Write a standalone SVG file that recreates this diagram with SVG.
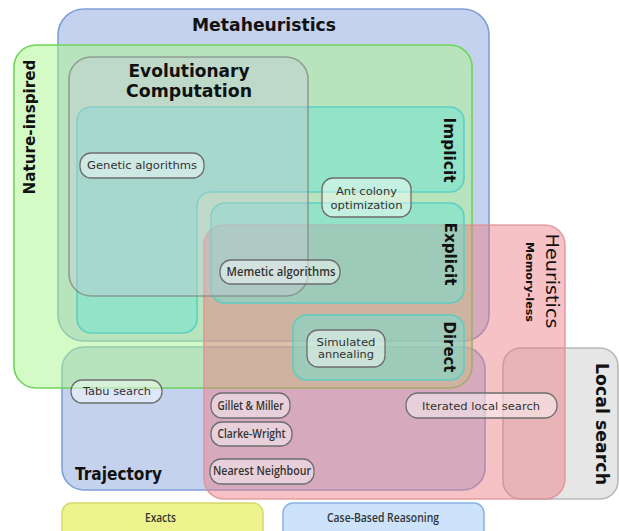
<svg xmlns="http://www.w3.org/2000/svg" width="619" height="531" viewBox="0 0 619 531">
  <style>
    .set { stroke-width: 1.6; }
    .meta { fill: #8ca5dc; fill-opacity: 0.5; stroke: #7f9fd8; }
    .nature { fill: #aaf58c; fill-opacity: 0.5; stroke: #6fd45a; }
    .heur { fill: #eb7880; fill-opacity: 0.45; stroke: #e08e92; stroke-opacity: 0.8; }
    .local { fill: #e6e6e6; stroke: #b8b8b8; }
    .evo { fill: #c8c8d7; fill-opacity: 0.4; stroke: #7f8a80; stroke-opacity: 0.75; }
    .teal { fill: #6ee1d2; fill-opacity: 0.5; stroke: #4fcfc2; stroke-opacity: 0.85; }
    .node rect { fill: #ffffff; fill-opacity: 0.45; stroke: #6e6e6e; stroke-width: 1.3; }
    .head { font-family: "DejaVu Sans", "Liberation Sans", sans-serif; font-weight: bold; fill: #111; }
    .lbl { font-family: "DejaVu Sans", "Liberation Sans", sans-serif; font-size: 11.3px; fill: #333; text-anchor: middle; }
    .cond { font-family: "Open Sans", "Liberation Sans", sans-serif; font-weight: 600; font-size: 12px; fill: #333; text-anchor: middle; }
  </style>

  <!-- sets -->
  <g id="metaheuristics">
    <rect class="set meta" x="58" y="9" width="431" height="332" rx="26"/>
    <text class="head" x="264" y="31" font-size="17" text-anchor="middle" textLength="144" lengthAdjust="spacingAndGlyphs">Metaheuristics</text>
  </g>
  <g id="trajectory">
    <rect class="set meta" x="62" y="347" width="423" height="143" rx="22"/>
    <text class="head" x="75" y="480" font-size="17" textLength="87" lengthAdjust="spacingAndGlyphs">Trajectory</text>
  </g>
  <g id="nature-inspired">
    <rect class="set nature" x="14" y="45" width="458" height="343" rx="22"/>
    <text class="head" transform="translate(35,127) rotate(-90)" font-size="16" text-anchor="middle" textLength="135" lengthAdjust="spacingAndGlyphs">Nature-inspired</text>
  </g>
  <g id="local-search">
    <rect class="set local" x="503" y="348" width="115" height="151" rx="18"/>
    <text class="head" transform="translate(596,424) rotate(90)" font-size="17" text-anchor="middle" textLength="122" lengthAdjust="spacingAndGlyphs">Local search</text>
  </g>
  <g id="heuristics">
    <rect class="set heur" x="204" y="225" width="361" height="274" rx="20"/>
    <text transform="translate(546,281) rotate(90)" font-family="DejaVu Sans, Liberation Sans, sans-serif" font-size="17" fill="#111" text-anchor="middle" textLength="95" lengthAdjust="spacingAndGlyphs">Heuristics</text>
    <text class="head" transform="translate(525.5,282) rotate(90)" font-size="11" text-anchor="middle" textLength="80" lengthAdjust="spacingAndGlyphs">Memory-less</text>
  </g>
  <g id="implicit">
    <path class="set teal" d="M91,107 H450 A14,14 0 0 1 464,121 V178 A14,14 0 0 1 450,192 H211 A14,14 0 0 0 197,206 V319 A14,14 0 0 1 183,333 H91 A14,14 0 0 1 77,319 V121 A14,14 0 0 1 91,107 Z"/>
    <text class="head" transform="translate(444,150) rotate(90)" font-size="16" text-anchor="middle" textLength="65" lengthAdjust="spacingAndGlyphs">Implicit</text>
  </g>
  <g id="explicit">
    <rect class="set teal" x="211" y="203" width="253" height="100" rx="14"/>
    <text class="head" transform="translate(445,254) rotate(90)" font-size="16" text-anchor="middle" textLength="63" lengthAdjust="spacingAndGlyphs">Explicit</text>
  </g>
  <g id="direct">
    <rect class="set teal" x="293" y="315" width="171" height="65" rx="14"/>
    <text class="head" transform="translate(443.5,347) rotate(90)" font-size="16" text-anchor="middle" textLength="51" lengthAdjust="spacingAndGlyphs">Direct</text>
  </g>
  <g id="evolutionary-computation">
    <rect class="set evo" x="69" y="57" width="239" height="239" rx="22"/>
    <text class="head" x="189" y="77" font-size="17" text-anchor="middle" textLength="121" lengthAdjust="spacingAndGlyphs">Evolutionary</text>
    <text class="head" x="189" y="97" font-size="17" text-anchor="middle" textLength="126" lengthAdjust="spacingAndGlyphs">Computation</text>
  </g>

  <!-- methods -->
  <g id="genetic-algorithms" class="node">
    <rect x="80" y="153" width="124" height="25" rx="11"/>
    <text class="lbl" x="142" y="169" textLength="110" lengthAdjust="spacingAndGlyphs">Genetic algorithms</text>
  </g>
  <g id="ant-colony" class="node">
    <rect x="322" y="178" width="89" height="39" rx="11"/>
    <text class="lbl" x="366.5" y="194.5" textLength="61" lengthAdjust="spacingAndGlyphs">Ant colony</text>
    <text class="lbl" x="366.5" y="208.5" textLength="72" lengthAdjust="spacingAndGlyphs">optimization</text>
  </g>
  <g id="memetic-algorithms" class="node">
    <rect x="220" y="260" width="120" height="24" rx="11"/>
    <text class="cond" x="281" y="276" textLength="109" lengthAdjust="spacingAndGlyphs">Memetic algorithms</text>
  </g>
  <g id="simulated-annealing" class="node">
    <rect x="307" y="330" width="78" height="37" rx="11"/>
    <text class="lbl" x="346" y="346" textLength="59" lengthAdjust="spacingAndGlyphs">Simulated</text>
    <text class="lbl" x="346" y="358" textLength="56" lengthAdjust="spacingAndGlyphs">annealing</text>
  </g>
  <g id="tabu-search" class="node">
    <rect x="71" y="380" width="91" height="23" rx="11"/>
    <text class="lbl" x="117" y="395" textLength="68" lengthAdjust="spacingAndGlyphs">Tabu search</text>
  </g>
  <g id="gillet-miller" class="node">
    <rect x="211" y="393" width="79" height="25" rx="11"/>
    <text class="cond" x="250.5" y="410" textLength="66" lengthAdjust="spacingAndGlyphs">Gillet &amp; Miller</text>
  </g>
  <g id="clarke-wright" class="node">
    <rect x="211" y="422" width="81" height="24" rx="11"/>
    <text class="cond" x="251.5" y="438" textLength="68" lengthAdjust="spacingAndGlyphs">Clarke-Wright</text>
  </g>
  <g id="nearest-neighbour" class="node">
    <rect x="210" y="459" width="104" height="25" rx="11"/>
    <text class="cond" x="262" y="475" textLength="98" lengthAdjust="spacingAndGlyphs">Nearest Neighbour</text>
  </g>
  <g id="iterated-local-search" class="node">
    <rect x="406" y="393" width="151" height="25" rx="12"/>
    <text class="lbl" x="481" y="410" font-size="11.5" textLength="118" lengthAdjust="spacingAndGlyphs">Iterated local search</text>
  </g>

  <!-- other families -->
  <g id="exacts">
    <rect x="62" y="503" width="201" height="40" rx="10" fill="#eef38d" stroke="#d3d86c" stroke-width="1.5"/>
    <text class="cond" x="160.5" y="522" font-size="11" textLength="31" lengthAdjust="spacingAndGlyphs">Exacts</text>
  </g>
  <g id="case-based-reasoning">
    <rect x="283" y="503" width="201" height="40" rx="10" fill="#cce3fb" stroke="#86b3e6" stroke-width="1.5"/>
    <text class="cond" x="383" y="522" font-size="11" textLength="112" lengthAdjust="spacingAndGlyphs">Case-Based Reasoning</text>
  </g>

  <g id="connectors"/>
</svg>
